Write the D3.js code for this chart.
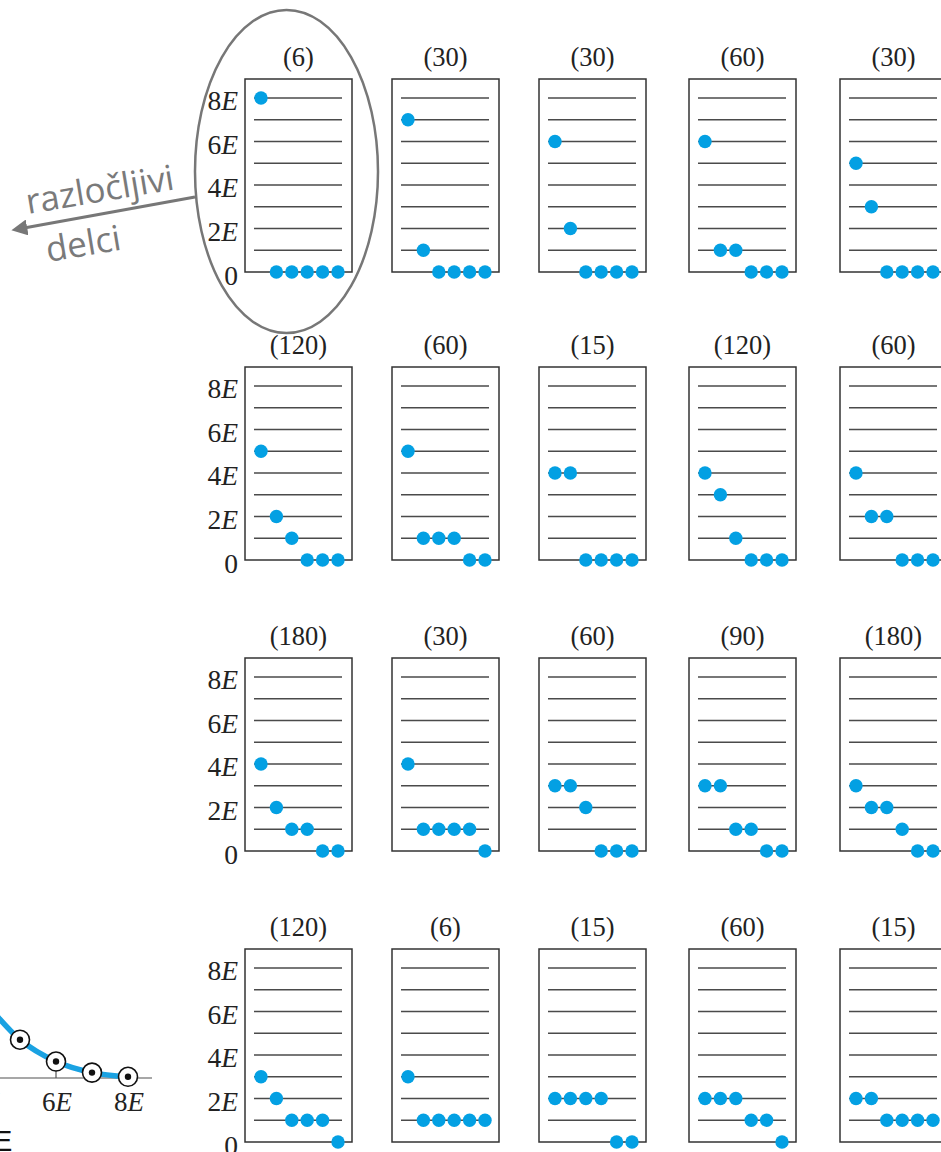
<!DOCTYPE html>
<html>
<head>
<meta charset="utf-8">
<script src="https://cdn.jsdelivr.net/npm/d3@7"></script>
<style>
html,body{margin:0;padding:0;background:#fff;}
svg{display:block;}
</style>
</head>
<body>
<svg id="chart" width="941" height="1152"></svg>
<script>
// ---------- data ----------
const degeneracies = [6, 30, 30, 60, 30, 120, 60, 15, 120, 60, 180, 30, 60, 90, 180, 120, 6, 15, 60, 15];
const configurations = [
  [8,0,0,0,0,0], [7,1,0,0,0,0], [6,2,0,0,0,0], [6,1,1,0,0,0], [5,3,0,0,0,0],
  [5,2,1,0,0,0], [5,1,1,1,0,0], [4,4,0,0,0,0], [4,3,1,0,0,0], [4,2,2,0,0,0],
  [4,2,1,1,0,0], [4,1,1,1,1,0], [3,3,2,0,0,0], [3,3,1,1,0,0], [3,2,2,1,0,0],
  [3,2,1,1,1,0], [3,1,1,1,1,1], [2,2,2,2,0,0], [2,2,2,1,1,0], [2,2,1,1,1,1]
];
const energyLevels = [0,1,2,3,4,5,6,7,8];
const levelTickValues = [8,6,4,2,0];
const levelTickLabels = ["8E","6E","4E","2E","0"];
// inset distribution curve (average occupation vs energy)
const curveEnergies = [3, 4, 5, 6, 7, 8];
const curveValues = [0.494, 0.326, 0.163, 0.070, 0.023, 0.005];
const markerEnergies = [5, 6, 7, 8];
const curveTickValues = [4, 6, 8];
const curveTickLabels = ["4E", "6E", "8E"];
const annotationLines = ["razločljivi", "delci"];

// ---------- layout ----------
const svg = d3.select("#chart");
const colX = [245, 392, 539, 689, 840];
const rowY = [79, 367, 658, 949];
const boxW = 107, boxH = 193;
const dotColor = "#03a0e3";
const serif = "'Liberation Serif', 'Times New Roman', serif";

const slot = d3.scalePoint().domain(d3.range(6)).range([16, 93]);

configurations.forEach((conf, i) => {
  const r = Math.floor(i / 5), c = i % 5;
  const x0 = colX[c], y0 = rowY[r];
  const y = d3.scaleLinear().domain([0, 8]).range([y0 + boxH, y0 + 19]);
  const g = svg.append("g");

  // level lines
  g.selectAll("line.lvl").data(energyLevels.filter(e => e > 0)).join("line")
    .attr("x1", x0 + 9).attr("x2", x0 + 97)
    .attr("y1", d => y(d)).attr("y2", d => y(d))
    .attr("stroke", "#4a4a4a").attr("stroke-width", 1.7);

  // box
  g.append("rect").attr("x", x0).attr("y", y0).attr("width", boxW).attr("height", boxH)
    .attr("fill", "none").attr("stroke", "#333").attr("stroke-width", 1.5);

  // title
  g.append("text").attr("x", x0 + boxW / 2).attr("y", y0 - 13)
    .attr("text-anchor", "middle").attr("font-family", serif).attr("font-size", 26.5)
    .attr("fill", "#222").text("(" + degeneracies[i] + ")");

  // particles
  g.selectAll("circle").data(conf).join("circle")
    .attr("cx", (d, k) => x0 + slot(k)).attr("cy", d => y(d))
    .attr("r", 6.7).attr("fill", dotColor);

  // axis labels for first column
  if (c === 0) {
    const lab = g.selectAll("text.lab").data(levelTickValues).join("text")
      .attr("class", "lab")
      .attr("x", x0 - 7).attr("y", d => y(d) + (d === 0 ? 13 : 12))
      .attr("text-anchor", "end").attr("font-family", serif).attr("font-size", 27.5)
      .attr("fill", "#222");
    lab.each(function(d, k) {
      const t = d3.select(this);
      const s = levelTickLabels[k];
      if (s.endsWith("E")) {
        t.append("tspan").text(s.slice(0, -1));
        t.append("tspan").attr("font-style", "italic").text("E");
      } else t.text(s);
    });
  }
});

// ---------- ellipse annotation ----------
svg.append("ellipse").attr("cx", 286.5).attr("cy", 171.5).attr("rx", 91.5).attr("ry", 161.5)
  .attr("fill", "none").attr("stroke", "#777").attr("stroke-width", 2.5);

svg.append("defs").append("marker").attr("id", "ah")
  .attr("viewBox", "0 0 10 10").attr("refX", 2).attr("refY", 5)
  .attr("markerWidth", 5).attr("markerHeight", 5).attr("orient", "auto")
  .append("path").attr("d", "M0,0 L10,5 L0,10 z").attr("fill", "#777");

svg.append("line").attr("x1", 195).attr("y1", 197).attr("x2", 24).attr("y2", 228)
  .attr("stroke", "#777").attr("stroke-width", 3.2).attr("marker-end", "url(#ah)");

const annPos = [[28, 214], [48, 262]];
annotationLines.forEach((s, i) => {
  svg.append("text")
    .attr("transform", `translate(${annPos[i][0]},${annPos[i][1]}) rotate(-9.5)`)
    .attr("font-family", "'Open Sans', 'Noto Sans', sans-serif").attr("font-size", 35)
    .attr("fill", "#7a7a7a").text(s);
});

// ---------- inset distribution curve ----------
const cx = d3.scaleLinear().domain([6, 8]).range([56, 128]);
const cy = d3.scaleLinear().domain([0, 1]).range([1078, 843]);

svg.append("line").attr("x1", 0).attr("x2", 152).attr("y1", cy(0)).attr("y2", cy(0))
  .attr("stroke", "#8a8a8a").attr("stroke-width", 1.5);

svg.selectAll("line.ctick").data(curveTickValues).join("line").attr("class", "ctick")
  .attr("x1", d => cx(d)).attr("x2", d => cx(d)).attr("y1", cy(0)).attr("y2", cy(0) - 8)
  .attr("stroke", "#555").attr("stroke-width", 1.2);

const curvePts = curveEnergies.map((e, i) => [e, curveValues[i]]);
svg.append("path").datum(curvePts)
  .attr("d", d3.line().x(d => cx(d[0])).y(d => cy(d[1])).curve(d3.curveMonotoneX))
  .attr("fill", "none").attr("stroke", "#1aa2e2").attr("stroke-width", 5.5);

const mk = svg.selectAll("g.mk").data(markerEnergies).join("g").attr("class", "mk")
  .attr("transform", d => `translate(${cx(d)},${cy(curveValues[curveEnergies.indexOf(d)])})`);
mk.append("circle").attr("r", 9.5).attr("fill", "#fff").attr("stroke", "#111").attr("stroke-width", 1.6);
mk.append("circle").attr("r", 3.2).attr("fill", "#111");

const ctl = svg.selectAll("text.ctl").data(curveTickValues).join("text").attr("class", "ctl")
  .attr("x", d => cx(d) + 1).attr("y", 1111)
  .attr("text-anchor", "middle").attr("font-family", serif).attr("font-size", 27).attr("fill", "#222");
ctl.each(function(d, k) {
  const s = curveTickLabels[k];
  d3.select(this).append("tspan").text(s.slice(0, -1));
  d3.select(this).append("tspan").attr("font-style", "italic").text("E");
});

svg.append("text").attr("x", -7).attr("y", 1151)
  .attr("font-family", "'Liberation Sans', sans-serif").attr("font-size", 29)
  .attr("fill", "#111").text("E");
</script>
</body>
</html>
